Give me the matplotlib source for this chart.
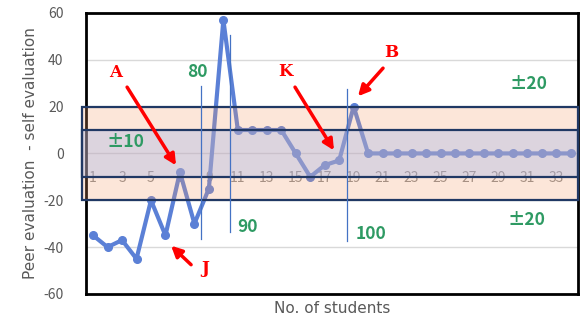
import matplotlib
matplotlib.use('Agg')
import matplotlib.pyplot as plt
from matplotlib.patches import Rectangle

plt.rcParams['font.family'] = ['Noto Sans CJK KR', 'DejaVu Sans']
plt.rcParams['axes.unicode_minus'] = False

students = list(range(1, 35))
diff = [-35, -40, -37, -45, -20, -35, -8, -30, -15, 57,
        10, 10, 10, 10, 0, -10, -5, -3, 20, 0,
        0, 0, 0, 0, 0, 0, 0, 0, 0, 0,
        0, 0, 0, 0]

# cut-off lines: (x, ymin, ymax, label, label x, label y)
cutoffs = [(8.46, -36.4, 28.7, '80', 8.18, 34.7),
           (10.48, -33.4, 50.5, '90', 11.7, -31.3),
           (18.54, -37.3, 27.4, '100', 20.2, -34.3)]
# letter, text pos, arrow start, arrow end
marks = [('A', (2.59, 34.7), (3.35, 28.3), (6.73, -5.1)),
         ('J', (8.73, -49.2), (7.77, -47.5), (6.39, -39.4)),
         ('K', (14.26, 35.1), (14.95, 28.3), (17.64, 1.3)),
         ('B', (21.58, 43.3), (21.03, 36.4), (19.3, 24.4))]

fig = plt.figure(figsize=(5.8, 3.22), dpi=100)
ax = fig.add_axes([0.148, 0.087, 0.8486, 0.873])

ax.set_xlim(0.5, 34.5)
ax.set_ylim(-60, 60)
ax.set_yticks(range(-60, 61, 20))
ax.set_xticks([])
for y in range(-40, 41, 20):
    ax.axhline(y, color='#d9d9d9', lw=1, zorder=0)

ax.plot(students, diff, color='#5b80d6', lw=3, marker='o', ms=5.5, zorder=2)

gray = '#595959'
for i in students:
    if i % 2 == 1:
        ax.text(i, -10.3, str(i), ha='center', va='center', fontsize=10,
                color='#8c8c8c', zorder=1)

outer = Rectangle((0.24, -20), 34.26, 40, facecolor=(247/255, 159/255, 107/255, 0.25),
                  edgecolor='#203864', lw=1.6, zorder=3, clip_on=False)
inner = Rectangle((0.24, -10), 34.26, 20, facecolor=(161/255, 179/255, 232/255, 0.35),
                  edgecolor='#203864', lw=1.6, zorder=4, clip_on=False)
ax.add_patch(outer)
ax.add_patch(inner)

green = '#2e9a63'
for x, y0, y1, lab, tx, ty in cutoffs:
    ax.plot([x, x], [y0, y1], color='#4472c4', lw=0.9, zorder=5)
    ax.text(tx, ty, lab, color=green, fontsize=12.5, fontweight='bold',
            ha='center', va='center', zorder=6)
ax.text(3.21, 4.7, '±10', color=green, fontsize=12.5, fontweight='bold', ha='center', va='center', zorder=6)
ax.text(31.1, 29.5, '±20', color=green, fontsize=12.5, fontweight='bold', ha='center', va='center', zorder=6)
ax.text(30.97, -28.3, '±20', color=green, fontsize=12.5, fontweight='bold', ha='center', va='center', zorder=6)

for lab, tpos, start, end in marks:
    ax.text(tpos[0], tpos[1], lab, color='#ff0000', fontsize=12, fontweight='bold',
            family='DejaVu Serif', ha='center', va='center', zorder=6)
    ax.annotate('', xy=end, xytext=start,
                arrowprops=dict(arrowstyle='-|>', color='#ff0000', lw=2.5,
                                mutation_scale=16, shrinkA=0, shrinkB=0), zorder=6)

for s in ax.spines.values():
    s.set_linewidth(2)
    s.set_color('black')
ax.tick_params(axis='y', length=0, pad=16, labelsize=10, labelcolor=gray)
ax.set_ylabel('Peer evaluation  - self evaluation', fontsize=11, color=gray,
              labelpad=4, family='DejaVu Sans')
ax.set_xlabel('No. of students', fontsize=11, color=gray, labelpad=5,
              family='DejaVu Sans')

fig.savefig('out.png', dpi=100)
